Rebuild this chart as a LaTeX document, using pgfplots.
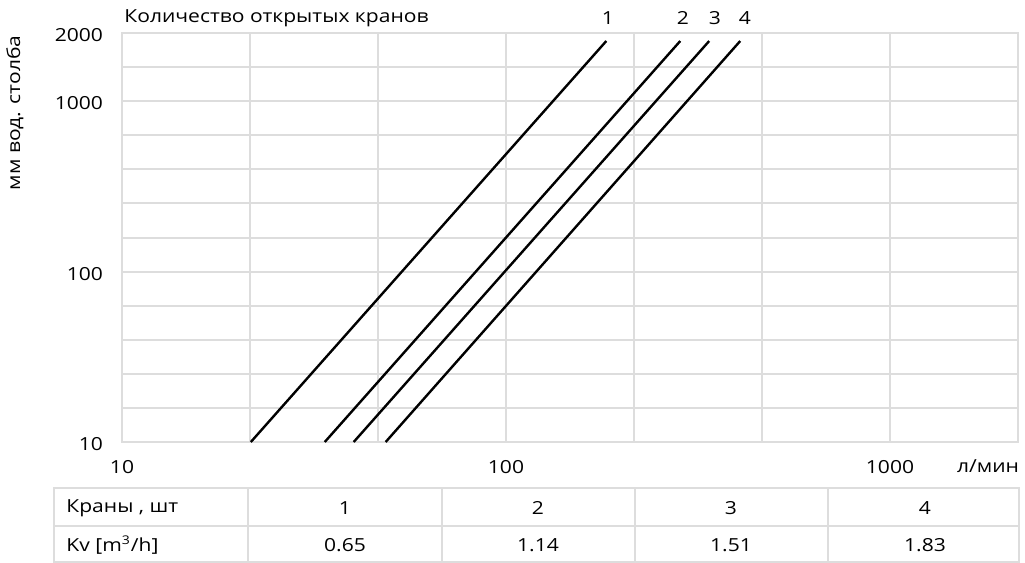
\documentclass[border=0pt]{standalone}
\usepackage{pgfplots}
\pgfplotsset{compat=1.18}
\usepackage{fontspec}
\setmainfont{Open Sans}[FakeStretch=1.17]
\definecolor{gridc}{RGB}{221,221,221}
\begin{document}
\begin{tikzpicture}[font=\fontsize{9pt}{10pt}\selectfont]
\useasboundingbox (0,0) rectangle (512.5pt,-281.5pt);
\begin{axis}[
  at={(61pt,-221pt)}, anchor=south west,
  scale only axis, width=448pt, height=204.5pt,
  xmode=log, ymode=log,
  xmin=10, xmax=2154.4, ymin=10, ymax=2511.9,
  xtick={10,21.544,46.416,100,215.44,464.16,1000,2154.4},
  xticklabels={10,,,100,,,1000,},
  ytick={10,15.849,25.119,39.811,63.096,100,158.49,251.19,398.11,630.96,1000,1584.9,2511.9},
  yticklabels={10,,,,,100,,,,,1000,,2000},
  grid=major, major grid style={gridc,line width=1pt},
  axis line style={gridc,line width=1pt},
  tick style={draw=none},
  xticklabel style={yshift=-5.5pt},
  yticklabel style={xshift=-6pt, yshift=-1pt},
  /pgf/number format/assume math mode=true,
  ticklabel style={font=\fontsize{9pt}{10pt}\selectfont},
]
\addplot[black, line width=1.2pt] coordinates {(21.65,10) (182.5,2254)};
\addplot[black, line width=1.2pt] coordinates {(33.73,10) (284.3,2254)};
\addplot[black, line width=1.2pt] coordinates {(40.12,10) (338.2,2254)};
\addplot[black, line width=1.2pt] coordinates {(48.6,10) (407.3,2254)};
\end{axis}
\begin{scope}[x=0.5pt,y=-0.5pt]
\node[anchor=west, inner sep=0pt] at (124,18) {Количество открытых кранов};
\node at (608,18) {1};
\node at (683,18) {2};
\node at (715,18) {3};
\node at (745,18) {4};
\node[rotate=90] at (15,113) {мм вод. столба};
\node at (988,466) {л/мин};
\draw[gridc, line width=1pt] (54,488) rectangle (1019,562);
\draw[gridc, line width=1pt] (54,526) -- (1019,526);
\foreach \x in {248,442,635,828} \draw[gridc, line width=1pt] (\x,488) -- (\x,562);
\node[anchor=west, inner sep=0pt] at (66,508) {Краны , шт};
\node[anchor=west, inner sep=0pt] at (66,545) {Kv [m\textsuperscript{3}/h]};
\node at (345,508) {1};
\node at (538,508) {2};
\node at (731,508) {3};
\node at (925,508) {4};
\node at (345,545) {0.65};
\node at (538,545) {1.14};
\node at (731,545) {1.51};
\node at (925,545) {1.83};
\end{scope}
\end{tikzpicture}
\end{document}
